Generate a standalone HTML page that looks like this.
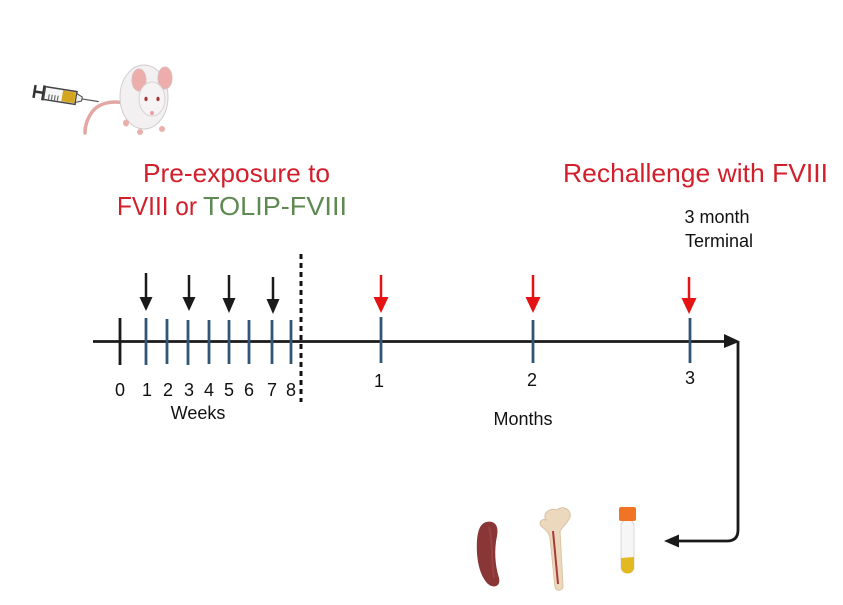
<!DOCTYPE html>
<html>
<head>
<meta charset="utf-8">
<style>
  html, body { margin:0; padding:0; background:#ffffff; }
  body { width:843px; height:605px; overflow:hidden; }
  svg { display:block; font-family:"Liberation Sans", Arial, sans-serif; }
</style>
</head>
<body>
<svg width="843" height="605" viewBox="0 0 843 605" xmlns="http://www.w3.org/2000/svg">
  <rect width="843" height="605" fill="#ffffff"/>

  <!-- Syringe -->
  <g transform="rotate(9 60 97)">
    <line x1="34" y1="89" x2="34" y2="102" stroke="#333" stroke-width="2.5"/>
    <line x1="34" y1="95.5" x2="43" y2="95.5" stroke="#333" stroke-width="2.5"/>
    <line x1="43" y1="88" x2="43" y2="103" stroke="#333" stroke-width="2.5"/>
    <rect x="44" y="89" width="32" height="13" fill="#f6f6f6" stroke="#444" stroke-width="1.5"/>
    <rect x="62" y="90" width="13" height="11" fill="#d4a520"/>
    <line x1="49" y1="96" x2="49" y2="101" stroke="#555" stroke-width="1"/>
    <line x1="52" y1="96" x2="52" y2="101" stroke="#555" stroke-width="1"/>
    <line x1="55" y1="96" x2="55" y2="101" stroke="#555" stroke-width="1"/>
    <line x1="58" y1="96" x2="58" y2="101" stroke="#555" stroke-width="1"/>
    <polygon points="76,91 82,93.5 82,97.5 76,100" fill="#eee" stroke="#444" stroke-width="1"/>
    <line x1="82" y1="95.5" x2="99" y2="95.5" stroke="#555" stroke-width="1.2"/>
  </g>

  <!-- Mouse -->
  <path d="M124,103 C110,100 98,104 92,112 C87,119 85,126 85,133" fill="none" stroke="#e2a7a2" stroke-width="3.5" stroke-linecap="round"/>
  <ellipse cx="144" cy="97" rx="24" ry="32" fill="#f2f0f0" stroke="#d2cdcd" stroke-width="1"/>
  <ellipse cx="139" cy="80" rx="7" ry="11" fill="#ecadab" stroke="#d9bcbc" stroke-width="1"/>
  <ellipse cx="165" cy="78" rx="7" ry="11" fill="#ecadab" stroke="#d9bcbc" stroke-width="1"/>
  <ellipse cx="152" cy="99" rx="13" ry="17" fill="#f5f3f3" stroke="#d8d3d3" stroke-width="1"/>
  <ellipse cx="146" cy="99" rx="1.6" ry="2.2" fill="#a03a3a"/>
  <ellipse cx="158" cy="99" rx="1.6" ry="2.2" fill="#a03a3a"/>
  <circle cx="152" cy="113" r="2" fill="#e8a0a0"/>
  <ellipse cx="126" cy="123" rx="3" ry="3.5" fill="#eab0ac"/>
  <ellipse cx="140" cy="132" rx="3" ry="3" fill="#eab0ac"/>
  <ellipse cx="162" cy="129" rx="3" ry="3" fill="#eab0ac"/>

  <!-- Titles -->
  <text x="143" y="182" font-size="26" fill="#d21f2b" textLength="187" lengthAdjust="spacingAndGlyphs">Pre-exposure to</text>
  <text x="117" y="215" font-size="26" fill="#d21f2b" textLength="80" lengthAdjust="spacingAndGlyphs">FVIII or</text>
  <text x="203" y="215" font-size="26" fill="#5e8a52" textLength="144" lengthAdjust="spacingAndGlyphs">TOLIP-FVIII</text>
  <text x="563" y="182" font-size="26" fill="#d21f2b" textLength="265" lengthAdjust="spacingAndGlyphs">Rechallenge with FVIII</text>
  <text x="717" y="223" font-size="18" fill="#111" text-anchor="middle">3 month</text>
  <text x="719" y="247" font-size="18" fill="#111" text-anchor="middle">Terminal</text>

  <!-- Dashed separator -->
  <line x1="301" y1="254" x2="301" y2="402" stroke="#111" stroke-width="3" stroke-dasharray="5 4"/>

  <!-- Axis -->
  <line x1="93" y1="341.5" x2="727" y2="341.5" stroke="#1a1a1a" stroke-width="2.8"/>
  <polygon points="724,334 740,341.5 724,348" fill="#1a1a1a"/>

  <!-- Week ticks -->
  <line x1="120" y1="318" x2="120" y2="365" stroke="#1a1a1a" stroke-width="2.8"/>
  <g stroke="#2f5676" stroke-width="2.8">
    <line x1="146" y1="318" x2="146" y2="365"/>
    <line x1="167" y1="319" x2="167" y2="364"/>
    <line x1="188" y1="320" x2="188" y2="365"/>
    <line x1="209" y1="320" x2="209" y2="364"/>
    <line x1="229" y1="320" x2="229" y2="364"/>
    <line x1="249" y1="320" x2="249" y2="364"/>
    <line x1="272" y1="320" x2="272" y2="364"/>
    <line x1="291" y1="320" x2="291" y2="364"/>
  </g>

  <!-- Month ticks -->
  <g stroke="#2f5676" stroke-width="2.8">
    <line x1="381" y1="317" x2="381" y2="363"/>
    <line x1="533" y1="320" x2="533" y2="363"/>
    <line x1="690" y1="318" x2="690" y2="363"/>
  </g>

  <!-- Black arrows -->
  <g fill="#1a1a1a" stroke="#1a1a1a">
    <line x1="146" y1="273" x2="146" y2="299" stroke-width="2.5"/>
    <polygon points="139.5,297 152.5,297 146,311" stroke="none"/>
    <line x1="189" y1="275" x2="189" y2="299" stroke-width="2.5"/>
    <polygon points="182.5,297 195.5,297 189,311" stroke="none"/>
    <line x1="229" y1="275" x2="229" y2="300" stroke-width="2.5"/>
    <polygon points="222.5,298 235.5,298 229,313" stroke="none"/>
    <line x1="273" y1="277" x2="273" y2="301" stroke-width="2.5"/>
    <polygon points="266.5,299 279.5,299 273,314" stroke="none"/>
  </g>

  <!-- Red arrows -->
  <g fill="#e41414" stroke="#e41414">
    <line x1="381" y1="275" x2="381" y2="299" stroke-width="2.5"/>
    <polygon points="373.5,297 388.5,297 381,313" stroke="none"/>
    <line x1="533" y1="275" x2="533" y2="299" stroke-width="2.5"/>
    <polygon points="525.5,297 540.5,297 533,313" stroke="none"/>
    <line x1="689" y1="277" x2="689" y2="300" stroke-width="2.5"/>
    <polygon points="681.5,298 696.5,298 689,314" stroke="none"/>
  </g>

  <!-- Week labels -->
  <g font-size="18" fill="#111" text-anchor="middle">
    <text x="120" y="396">0</text>
    <text x="147" y="396">1</text>
    <text x="168" y="396">2</text>
    <text x="189" y="396">3</text>
    <text x="209" y="396">4</text>
    <text x="229" y="396">5</text>
    <text x="249" y="396">6</text>
    <text x="272" y="396">7</text>
    <text x="291" y="396">8</text>
    <text x="198" y="419">Weeks</text>
    <text x="379" y="387">1</text>
    <text x="532" y="386">2</text>
    <text x="690" y="384">3</text>
    <text x="523" y="425">Months</text>
  </g>

  <!-- Connector to samples -->
  <path d="M738,342 L738,530 Q738,541 727,541 L677,541" fill="none" stroke="#1a1a1a" stroke-width="2.8"/>
  <polygon points="679,534.5 664,541 679,547.5" fill="#1a1a1a"/>

  <!-- Spleen -->
  <path d="M486,522 C495,520 499,526 497,536 C494,550 495,565 499,578 C501,586 494,589 488,584 C479,575 476,558 477,540 C478,530 480,524 486,522 Z" fill="#8a3536"/>
  <path d="M489,527 C493,540 491,560 494,578" fill="none" stroke="#a64a4a" stroke-width="2" opacity="0.6"/>

  <!-- Bone -->
  <path d="M546,520 C542,514 549,507 557,510 C562,505 572,509 570,517 C567,524 563,526 560,531 L563,586 C563,591 556,592 555,587 L550,538 C549,532 545,529 542,527 C538,523 541,518 546,520 Z" fill="#ecd9bd" stroke="#d9c2a0" stroke-width="1"/>
  <path d="M553,531 L558,584" stroke="#a93a3a" stroke-width="2" fill="none"/>

  <!-- Blood tube -->
  <rect x="621" y="520" width="13" height="53" rx="6" fill="#f6f6f6" stroke="#d8d8d8" stroke-width="1"/>
  <path d="M621,558 L634,557 L634,567 A6.5,6.5 0 0 1 621,567 Z" fill="#e3b922"/>
  <rect x="619" y="507" width="17" height="14" rx="2" fill="#f07424"/>
</svg>
</body>
</html>
